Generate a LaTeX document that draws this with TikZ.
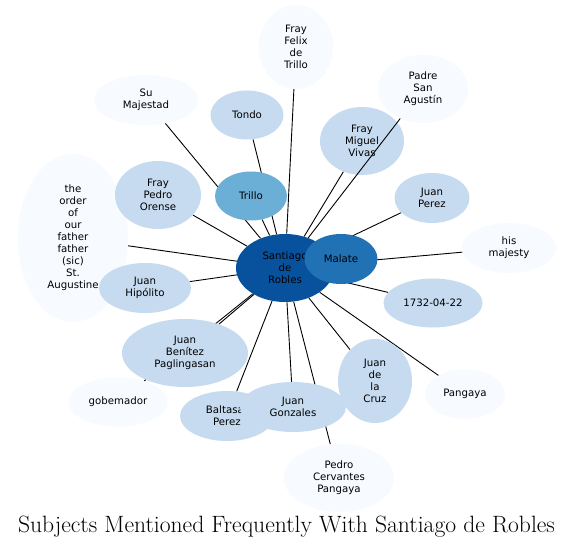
\documentclass[tikz,border=0pt]{standalone}
\usepackage{fontspec}
\usetikzlibrary{shapes.geometric}
\newfontfamily\dejavu{DejaVu Sans}
\definecolor{cA}{HTML}{08519C}
\definecolor{cB}{HTML}{2171B5}
\definecolor{cC}{HTML}{6BAED6}
\definecolor{cD}{HTML}{C6DBEF}
\definecolor{cE}{HTML}{F7FBFF}
\pgfdeclarelayer{background}
\pgfsetlayers{background,main}
\tikzset{
  nd/.style={ellipse, inner sep=0pt, align=center, font=\dejavu\fontsize{10.2}{12}\selectfont, text=black},
  edge/.style={draw=black, line width=0.9pt},
}
\begin{document}
\begin{tikzpicture}[x=1pt,y=-1pt]
\useasboundingbox (0,0) rectangle (573,548);
% nodes
\node[nd, fill=cE, minimum width=110, minimum height=168] (ORD) at (73,238) {the\\order\\of\\our\\father\\father\\(sic)\\St.\\Augustine};
\node[nd, fill=cD, minimum width=86, minimum height=68] (FPO) at (158,195) {Fray\\Pedro\\Orense};
\node[nd, fill=cD, minimum width=92, minimum height=50] (JH) at (145,288) {Juan\\Hipólito};
\node[nd, fill=cE, minimum width=104, minimum height=50] (SM) at (146,100) {Su\\Majestad};
\node[nd, fill=cD, minimum width=73, minimum height=49] (To) at (247,115) {Tondo};
\node[nd, fill=cC, minimum width=72, minimum height=49] (Tr) at (251,196) {Trillo};
\node[nd, fill=cE, minimum width=74, minimum height=84] (FFT) at (296,47) {Fray\\Felix\\de\\Trillo};
\node[nd, fill=cE, minimum width=90, minimum height=68] (PSA) at (423,89) {Padre\\San\\Agustín};
\node[nd, fill=cD, minimum width=84, minimum height=68] (FMV) at (362,141) {Fray\\Miguel\\Vivas};
\node[nd, fill=cD, minimum width=75, minimum height=50] (JP) at (432,198) {Juan\\Perez};
\node[nd, fill=cE, minimum width=94, minimum height=50] (HM) at (509,248) {his\\majesty};
\node[nd, fill=cD, minimum width=99, minimum height=49] (D) at (433,303) {1732-04-22};
\node[nd, fill=cE, minimum width=80, minimum height=49] (PG) at (465,394) {Pangaya};
\node[nd, fill=cD, minimum width=74, minimum height=84] (JC) at (375,381) {Juan\\de\\la\\Cruz};
\node[nd, fill=cE, minimum width=110, minimum height=68] (PCP) at (339,478) {Pedro\\Cervantes\\Pangaya};
\node[nd, fill=cD, minimum width=94, minimum height=50] (BP) at (227,416) {Baltasar\\Perez};
\node[nd, fill=cD, minimum width=106, minimum height=50] (JG) at (293,407) {Juan\\Gonzales};
\node[nd, fill=cE, minimum width=99, minimum height=49] (GOB) at (118,402) {gobemador};
\node[nd, fill=cD, minimum width=126, minimum height=68] (JBP) at (185,353) {Juan\\Benítez\\Paglingasan};
\node[nd, fill=cA, minimum width=98, minimum height=68] (S) at (285,268) {Santiago\\de\\Robles};
\node[nd, fill=cB, minimum width=73, minimum height=50] (M) at (341,259) {Malate};
% edges under nodes
\begin{pgfonlayer}{background}
\fill[white] (0,0) rectangle (573,548);
\foreach \n in {ORD,FPO,JH,SM,To,Tr,FFT,FMV,JP,HM,D,PG,JC,PCP,BP,JG,GOB,JBP,M}
  \draw[edge] (S) -- (\n);
\end{pgfonlayer}
% edge drawn over Fray Miguel Vivas
\draw[edge] (S) -- (PSA);
% title
\node[anchor=base, inner sep=0pt, font=\fontsize{23.6}{28}\selectfont] (title) at (286.5,532) {Subjects Mentioned Frequently With Santiago de Robles};
\end{tikzpicture}
\end{document}
